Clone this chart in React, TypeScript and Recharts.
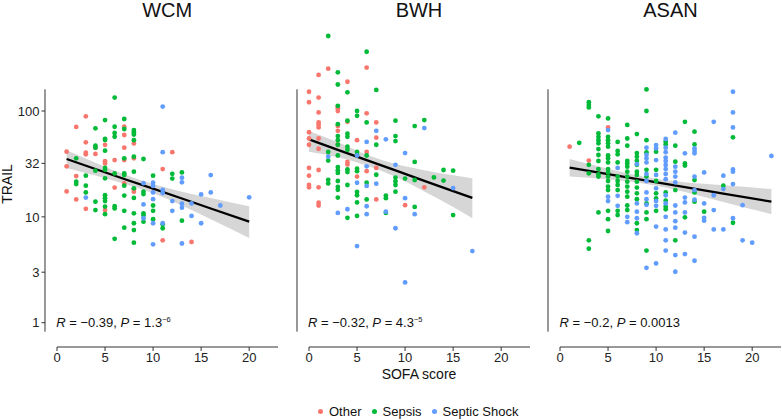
import { ComposedChart, Scatter, Line, Area, XAxis, YAxis, ReferenceLine } from "recharts";

// colours (ggplot default hues)
const OTHER = "#F8766D";
const SEPSIS = "#00BA38";
const SHOCK = "#619CFF";

const panels = ["WCM", "BWH", "ASAN"];
const xTicks = [0, 5, 10, 15, 20];
const yTicks = [1, 3, 10, 32, 100];
const stats = [
    { r: "\u22120.39", p: "1.3", exp: "\u22126" },
    { r: "\u22120.32", p: "4.3", exp: "\u22125" },
    { r: "\u22120.2", p: "0.0013", exp: "" },
];

// WCM  [SOFA, TRAIL]
const wcmOther = [
    [1, 41.3], [1, 30], [1, 17.4], [2, 70.7], [2, 24.3], [2, 14.6], [3, 89], [3, 50.6], [3, 40.5], [3, 39], [3, 11.9],
    [4, 45], [4, 39.3], [5, 47.9], [5, 33.5], [5, 32], [5, 11.6], [6, 34.4], [6, 18.9], [7, 71], [7, 59.3], [7, 45],
    [7, 34.4], [7, 20.7], [8, 49.4], [8, 35.7], [8, 18.2], [8, 17.3], [11, 28.3], [11, 6], [12, 40.8], [14, 5.8],
];
const wcmSepsis = [
    [2, 35.7], [2, 21.5], [2, 20.4], [3, 24.5], [3, 19.7], [3, 17], [4, 68.6], [4, 47], [4, 45], [4, 27.3], [4, 13.9],
    [4, 11.6], [5, 82], [5, 54.6], [5, 53.2], [5, 42.2], [5, 29], [5, 27.8], [5, 23.1], [5, 16], [5, 15], [5, 14.1],
    [5, 12.5], [5, 10.6], [6, 134], [6, 71], [6, 62], [6, 57], [6, 25.7], [6, 12.6], [6, 12], [6, 6.2], [7, 84],
    [7, 67.6], [7, 35.7], [7, 25.7], [7, 24.8], [7, 19.7], [7, 15.9], [7, 11.4], [7, 7.9], [8, 66], [8, 63], [8, 60],
    [8, 53], [8, 37], [8, 26.7], [8, 18.6], [8, 15.1], [8, 10.8], [8, 8.7], [8, 7.5], [8, 5.7], [9, 35.2], [9, 17.3],
    [9, 16.4], [9, 10.8], [9, 10.3], [9, 9.0], [10, 24.5], [10, 12.8], [10, 11.4], [10, 9.5], [11, 8.5], [11, 7.8],
    [12, 25.5], [12, 23], [13, 26.3], [13, 9.2],
];
const wcmShock = [
    [3, 15.2], [9, 20.8], [9, 13.1], [9, 9.7], [10, 21], [10, 19.6], [10, 17], [10, 14.7], [10, 8.7], [10, 5.5],
    [11, 110], [11, 40.8], [11, 18], [11, 16.8], [11, 8.7], [12, 14.1], [12, 11.4], [13, 23.4], [13, 21.2], [13, 13.3],
    [13, 12.2], [13, 5.6], [14, 13.4], [14, 10.2], [15, 16.3], [15, 8.7], [16, 24.8], [16, 17], [17, 12.8], [20, 15.3],
];
// [SOFA, fit, lower, upper]
const wcmFit = [
    [1, 35.2, 29, 42.5], [4, 28.3, 24.6, 32.5], [7, 22.8, 20.6, 25.3], [10, 18.5, 16.7, 20.4],
    [13, 14.9, 12.8, 17.3], [16, 12.0, 9.5, 15.1], [20, 9.0, 6.3, 12.6],
];

// BWH
const bwhOther = [
    [0, 152], [0, 121], [0, 63], [0, 55], [0, 48], [0, 29], [0, 24.5], [0, 20], [0, 19], [1, 219], [1, 134], [1, 97],
    [1, 78], [1, 74], [1, 70], [1, 55], [1, 44], [1, 27.7], [1, 19], [1, 13.6], [1, 12.8], [2, 251], [3, 110], [3, 106],
    [3, 100], [3, 72], [3, 65], [3, 48], [4, 189], [4, 79], [4, 33], [4, 31.3], [5, 53], [5, 24], [6, 257], [6, 95],
    [6, 41], [6, 27], [7, 78], [7, 56], [7, 29], [7, 14.6], [10, 12.9], [12, 19],
];
const bwhSepsis = [
    [2, 511], [2, 41], [2, 34], [2, 22.4], [2, 20.7], [3, 232], [3, 178], [3, 112], [3, 75], [3, 58], [3, 53], [3, 48],
    [3, 38], [3, 29.5], [3, 27.5], [3, 26], [3, 21.8], [3, 19.2], [3, 18], [3, 15.2], [4, 150], [4, 81], [4, 61],
    [4, 57], [4, 46], [4, 43], [4, 28], [4, 26.5], [4, 20], [4, 9.8], [5, 100], [5, 90], [5, 41], [5, 38.5], [5, 28.5],
    [5, 27], [5, 17.2], [5, 16], [5, 13.7], [5, 10.2], [6, 363], [6, 78], [6, 38], [6, 21], [6, 14.6], [7, 158], [7, 48],
    [7, 25], [8, 15.9], [8, 15], [8, 10.9], [9, 81], [9, 58], [9, 52], [9, 23.5], [9, 21.7], [9, 20], [9, 17.3], [10, 23],
    [11, 72], [11, 33], [11, 22.3], [11, 12.4], [12, 82], [13, 23.6], [14, 27.7], [14, 22], [15, 27.3], [15, 10.4],
];
const bwhShock = [
    [2, 37], [3, 10.9], [4, 11.8], [5, 38], [5, 21], [5, 5.3], [6, 51], [6, 30], [6, 19.6], [6, 12.6], [6, 10.6],
    [7, 65], [7, 20.6], [8, 54], [8, 11.2], [9, 31], [9, 7.8], [10, 40], [10, 15], [10, 2.4], [11, 10.6], [12, 69],
    [15, 18.7], [17, 4.75],
];
const bwhFit = [
    [0, 54, 41.3, 64.7], [3, 43, 36.6, 50.6], [6, 34.4, 30.6, 38.6], [9, 27.5, 23.9, 31.6],
    [12, 21.9, 17.4, 27.6], [15, 17.5, 12.4, 24.7], [17, 15.1, 9.7, 23.1],
];

// ASAN
const asanOther = [[1, 46], [3, 34], [5, 70]];
const asanSepsis = [
    [2, 50], [3, 121], [3, 114], [3, 108], [3, 31], [3, 25.8], [3, 6], [3, 5],
    [4, 89], [4, 61.5], [4, 57], [4, 53], [4, 49.5], [4, 43.7], [4, 38.4], [4, 33.7], [4, 28.3], [4, 25.2], [4, 24], [4, 11],
    [5, 85], [5, 57], [5, 53], [5, 49.5], [5, 46], [5, 38], [5, 35.7], [5, 32.7], [5, 28.3], [5, 26.3], [5, 24], [5, 21.8],
    [5, 19.3], [5, 17.9], [5, 11.4], [5, 9.5], [5, 7.35],
    [6, 51], [6, 42], [6, 39], [6, 32.7], [6, 24], [6, 21.8], [6, 20], [6, 17.9], [6, 11.4], [6, 10.4],
    [7, 73.8], [7, 55], [7, 47], [7, 33.7], [7, 32], [7, 29.8], [7, 26.7], [7, 24], [7, 21.5], [7, 19.3], [7, 17.3],
    [7, 15.5], [7, 12.8], [7, 11.6],
    [8, 60.6], [8, 40], [8, 37], [8, 33.7], [8, 31], [8, 26.7], [8, 24.9], [8, 21.5], [8, 18.9], [8, 16.7], [8, 14.7],
    [8, 8.7], [8, 7.5],
    [9, 160], [9, 100], [9, 53], [9, 40.7], [9, 27.8], [9, 24], [9, 13.4], [9, 11], [9, 9.5], [9, 4.8],
    [10, 41.3], [10, 27.8], [10, 21.8], [10, 16.7], [10, 14.9], [10, 11.4],
    [11, 51.2], [11, 48.3], [11, 17], [11, 14.2], [11, 12.5], [11, 11.8],
    [12, 47], [12, 33.2], [12, 17.9], [12, 6], [13, 79], [13, 32], [13, 30.5], [13, 9.9],
    [14, 63.8], [14, 48.3], [14, 22.3], [14, 17], [14, 13.9], [15, 11.2], [17, 19.7], [18, 56.4], [18, 8.8],
];
const asanShock = [
    [5, 66], [5, 15.5], [5, 14.1], [6, 29], [6, 15.8], [6, 12.7], [7, 10], [7, 8.9],
    [8, 31.5], [8, 13.4], [8, 11.2], [8, 9.7], [8, 7],
    [9, 45], [9, 38.4], [9, 35.7], [9, 32.7], [9, 25.4], [9, 21.8], [9, 17], [9, 14.7], [9, 13], [9, 3.3],
    [10, 47.7], [10, 44.4], [10, 34.4], [10, 24.9], [10, 18.6], [10, 14.1], [10, 12.7], [10, 8.1], [10, 3.63],
    [11, 54.4], [11, 45], [11, 40.8], [11, 36.3], [11, 33.7], [11, 30.9], [11, 28.3], [11, 25.4], [11, 22.7], [11, 16],
    [11, 13.4], [11, 10], [11, 7.6], [11, 6], [11, 4.8],
    [12, 62.4], [12, 29.8], [12, 26.7], [12, 24], [12, 21.2], [12, 12.8], [12, 11], [12, 9.1], [12, 7.9], [12, 4.35], [12, 3.03],
    [13, 39.8], [13, 15.2], [13, 13.7], [13, 11], [13, 7.1], [13, 4.45],
    [14, 44.4], [14, 42], [14, 39.8], [14, 24], [14, 17.9], [14, 14.5], [14, 6.5], [14, 3.85],
    [15, 26.3], [15, 13.4], [15, 9.8], [15, 9.2], [16, 79], [16, 16], [16, 11.6], [16, 7.6],
    [17, 24.5], [17, 18.3], [17, 7.6], [18, 152], [18, 97], [18, 70], [18, 28], [18, 26.7], [18, 20.4], [18, 9.7],
    [19, 12.9], [19, 6], [20, 5.7], [22, 37.6],
];
const asanFit = [
    [1, 29.2, 24, 35.2], [5, 25.3, 22.6, 28.4], [9, 22, 20.4, 23.7], [13, 19.1, 17.2, 21.2],
    [17, 16.6, 13.8, 19.9], [22, 13.9, 10.6, 18.3],
];

// layout: plot area 25..347 px, value 1 sits at 322.7 px, 105.85 px per decade
const DECADE = 105.85;
const Y_MAX = Math.pow(10, (322.7 - 25) / DECADE);
const Y_MIN = Math.pow(10, (322.7 - 347) / DECADE);
const AXIS_TOP = Math.pow(10, (322.7 - 89.3) / DECADE);
const AXIS_BOTTOM = Math.pow(10, (322.7 - 331.7) / DECADE);
const X0 = [56.7, 308.5, 560];
const Y_AXIS_W = 57;
const FONT = "'Liberation Sans', Arial, Helvetica, sans-serif";

const toPts = (arr: number[][]) => arr.map(([x, y]) => ({ x, y }));
const toFit = (arr: number[][]) => arr.map(([x, fit, lo, hi]) => ({ x, fit, band: [lo, hi] }));

const dot = (color: string) => (p: any) => <circle cx={p.cx} cy={p.cy} r={2.4} fill={color} />;

const YTick = (p: any) => {
    const ax = Y_AXIS_W - 12;
    return (
        <g>
            <line x1={ax - 3.5} x2={ax} y1={p.y} y2={p.y} stroke="#333" strokeWidth={1} />
            <text x={ax - 5.5} y={p.y} dy="0.36em" textAnchor="end" fontSize={13} fill="#222">
                {p.payload.value}
            </text>
        </g>
    );
};

function Panel({ idx, other, sepsis, shock, fit }: any) {
    const x0 = X0[idx];
    const st = stats[idx];
    return (
        <>
            <div style={{ position: "absolute", left: x0 + 110.5 - 60, width: 120, top: 0, textAlign: "center", fontSize: 20, lineHeight: "20px", color: "#111" }}>
                {panels[idx]}
            </div>
            <div style={{ position: "absolute", left: x0 - Y_AXIS_W, top: 0 }}>
                <ComposedChart width={Y_AXIS_W + 226} height={377} data={toFit(fit)} margin={{ top: 25, right: 5, bottom: 0, left: 0 }}>
                    <XAxis
                        dataKey="x"
                        type="number"
                        domain={[0, 23]}
                        ticks={xTicks}
                        height={30}
                        axisLine={{ stroke: "#333", strokeWidth: 1 }}
                        tickLine={{ stroke: "#333" }}
                        tickSize={4}
                        tickMargin={2}
                        tick={{ fontSize: 13, fill: "#222" }}
                    />
                    <YAxis
                        type="number"
                        scale="log"
                        domain={[Y_MIN, Y_MAX]}
                        ticks={yTicks}
                        width={Y_AXIS_W}
                        axisLine={false}
                        tickLine={false}
                        tick={idx === 0 ? <YTick /> : false}
                    />
                    <ReferenceLine
                        segment={[{ x: -1.25, y: AXIS_BOTTOM }, { x: -1.25, y: AXIS_TOP }]}
                        stroke="#333"
                        strokeWidth={1}
                        ifOverflow="visible"
                    />
                    <Scatter data={toPts(other)} dataKey="y" shape={dot(OTHER)} isAnimationActive={false} />
                    <Scatter data={toPts(sepsis)} dataKey="y" shape={dot(SEPSIS)} isAnimationActive={false} />
                    <Scatter data={toPts(shock)} dataKey="y" shape={dot(SHOCK)} isAnimationActive={false} />
                    <Area dataKey="band" type="monotone" stroke="none" fill="#999999" fillOpacity={0.4} isAnimationActive={false} />
                    <Line dataKey="fit" type="linear" stroke="#000" strokeWidth={2.3} dot={false} isAnimationActive={false} />
                </ComposedChart>
            </div>
            <div style={{ position: "absolute", left: x0 - 0.5, top: 316.2, fontSize: 13, lineHeight: "13px", whiteSpace: "nowrap", color: "#111" }}>
                <i>R</i> = {st.r}, <i>P</i> = {st.p}
                {st.exp && <span style={{ fontSize: 7.5, position: "relative", top: -5.5 }}>{st.exp}</span>}
            </div>
        </>
    );
}

const legendItems = [
    { name: "Other", color: OTHER },
    { name: "Sepsis", color: SEPSIS },
    { name: "Septic Shock", color: SHOCK },
];

export default function App() {
    return (
        <div style={{ position: "absolute", left: 0, top: 0, width: 782, height: 420, background: "#fff", fontFamily: FONT, overflow: "hidden" }}>
            <Panel idx={0} other={wcmOther} sepsis={wcmSepsis} shock={wcmShock} fit={wcmFit} />
            <Panel idx={1} other={bwhOther} sepsis={bwhSepsis} shock={bwhShock} fit={bwhFit} />
            <Panel idx={2} other={asanOther} sepsis={asanSepsis} shock={asanShock} fit={asanFit} />

            <div style={{ position: "absolute", left: 7 - 30, top: 184 - 8, width: 60, textAlign: "center", fontSize: 14, lineHeight: "16px", transform: "rotate(-90deg)", color: "#111" }}>
                TRAIL
            </div>
            <div style={{ position: "absolute", left: 419 - 60, top: 367.4, width: 120, textAlign: "center", fontSize: 14, lineHeight: "14px", color: "#111" }}>
                SOFA score
            </div>

            <div style={{ position: "absolute", left: 318, top: 404.5, display: "flex", alignItems: "center", fontSize: 13, lineHeight: "13px", color: "#111" }}>
                {legendItems.map((it) => (
                    <div key={it.name} style={{ display: "flex", alignItems: "center", marginRight: 10 }}>
                        <span style={{ width: 5, height: 5, borderRadius: "50%", background: it.color, marginRight: 6 }} />
                        <span>{it.name}</span>
                    </div>
                ))}
            </div>
        </div>
    );
}
